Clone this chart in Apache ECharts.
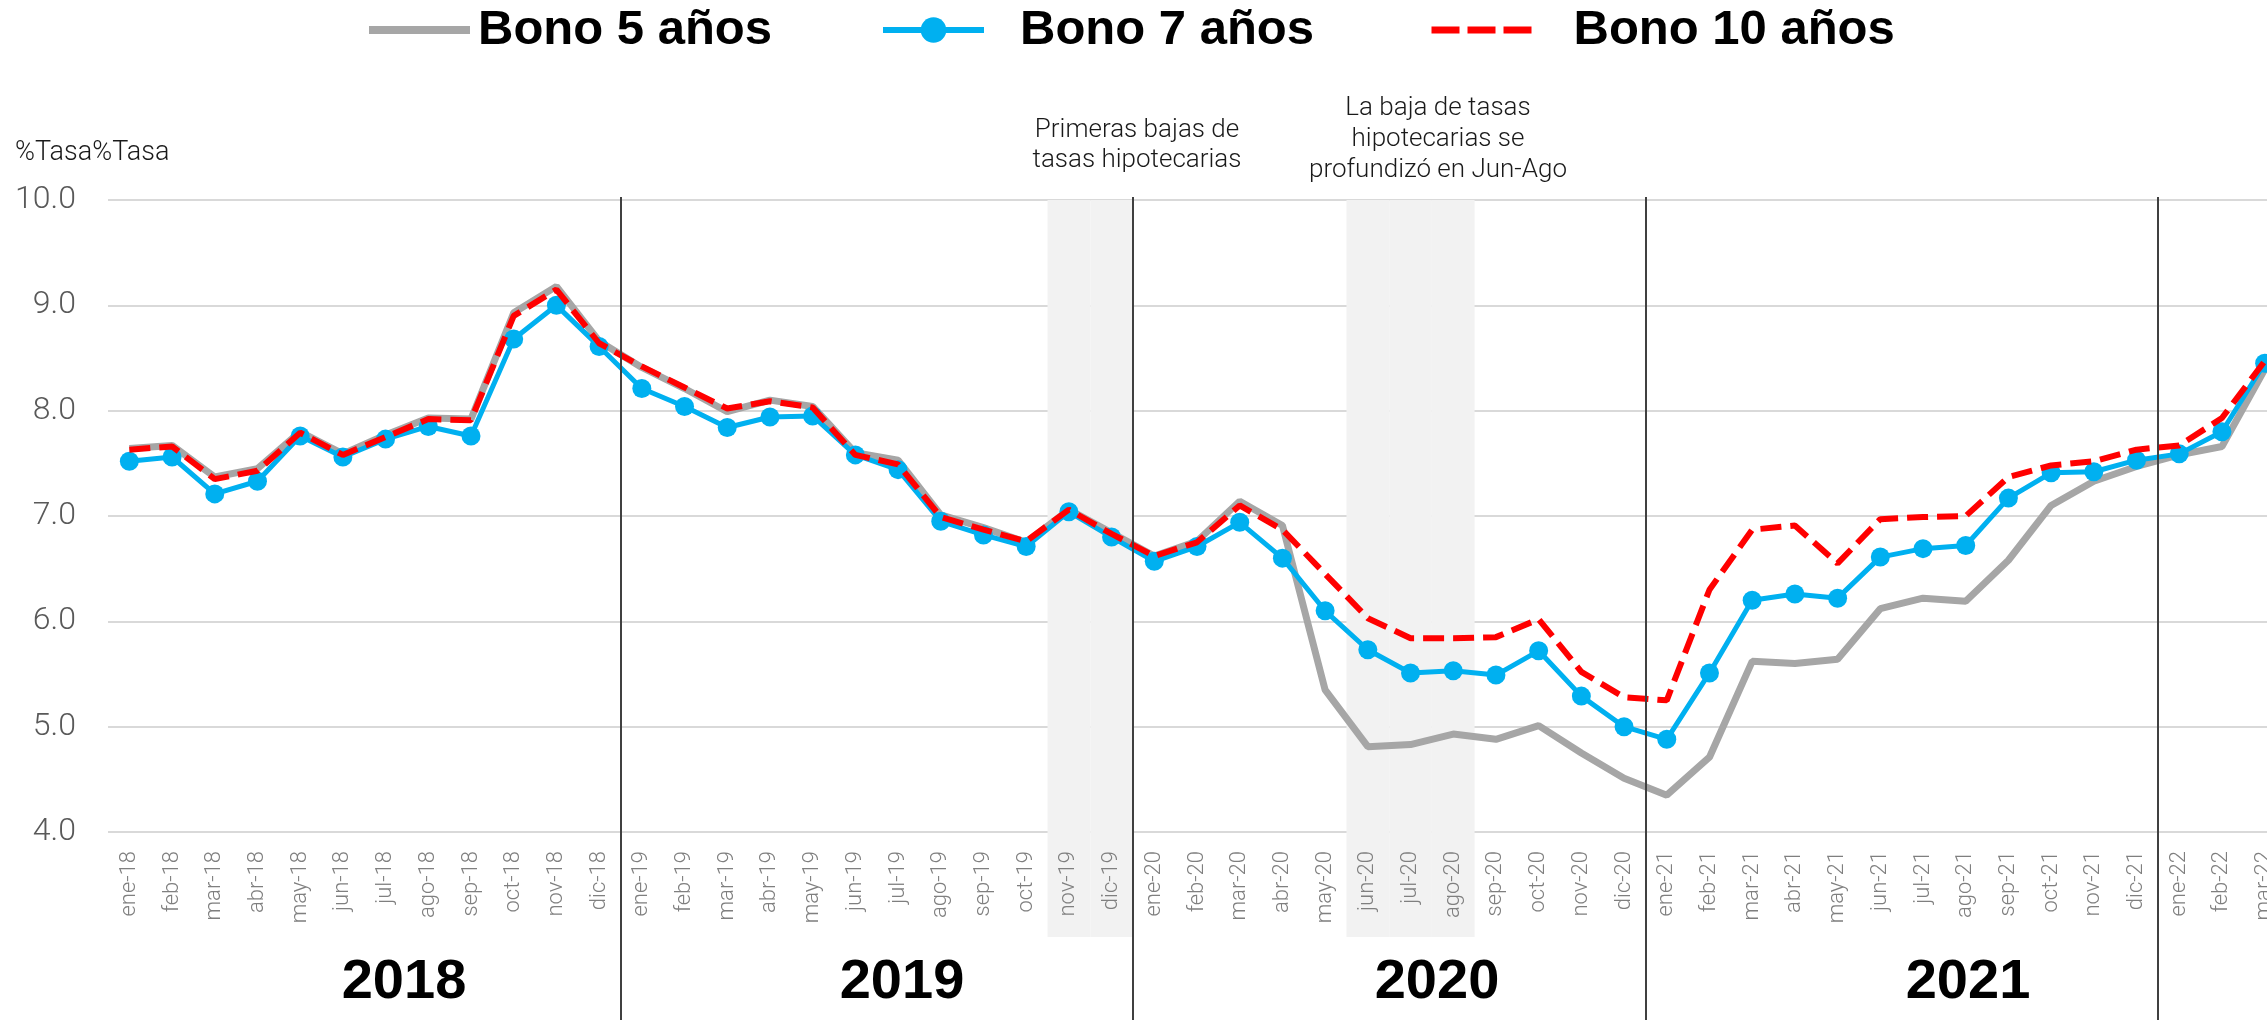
<!DOCTYPE html>
<html>
<head>
<meta charset="utf-8">
<title>Tasas bonos</title>
<script src="https://cdn.jsdelivr.net/npm/echarts@6/dist/echarts.min.js"></script>
<style>
    html, body { margin: 0; padding: 0; background: #ffffff; }
    #show_charts { width: 2267px; height: 1020px; }
</style>
</head>
<body>
<div id="show_charts"></div>
<script>
var meses = [
    'ene-18', 'feb-18', 'mar-18', 'abr-18', 'may-18', 'jun-18', 'jul-18', 'ago-18', 'sep-18', 'oct-18', 'nov-18', 'dic-18',
    'ene-19', 'feb-19', 'mar-19', 'abr-19', 'may-19', 'jun-19', 'jul-19', 'ago-19', 'sep-19', 'oct-19', 'nov-19', 'dic-19',
    'ene-20', 'feb-20', 'mar-20', 'abr-20', 'may-20', 'jun-20', 'jul-20', 'ago-20', 'sep-20', 'oct-20', 'nov-20', 'dic-20',
    'ene-21', 'feb-21', 'mar-21', 'abr-21', 'may-21', 'jun-21', 'jul-21', 'ago-21', 'sep-21', 'oct-21', 'nov-21', 'dic-21',
    'ene-22', 'feb-22', 'mar-22'
];

var bono5 = [
    7.64, 7.67, 7.37, 7.45, 7.80, 7.59, 7.77, 7.93, 7.92, 8.93, 9.18, 8.66,
    8.41, 8.21, 7.99, 8.10, 8.04, 7.60, 7.53, 7.01, 6.89, 6.75, 7.06, 6.84,
    6.62, 6.76, 7.14, 6.91, 5.35, 4.81, 4.83, 4.93, 4.88, 5.01, 4.75, 4.51,
    4.35, 4.71, 5.62, 5.60, 5.64, 6.12, 6.22, 6.19, 6.58, 7.10, 7.33, 7.47,
    7.58, 7.66, 8.39
];

var bono7 = [
    7.52, 7.56, 7.21, 7.33, 7.76, 7.56, 7.73, 7.85, 7.76, 8.68, 9.00, 8.61,
    8.21, 8.04, 7.84, 7.94, 7.95, 7.58, 7.44, 6.95, 6.82, 6.71, 7.04, 6.80,
    6.57, 6.71, 6.94, 6.60, 6.10, 5.73, 5.51, 5.53, 5.49, 5.72, 5.29, 5.00,
    4.88, 5.51, 6.20, 6.26, 6.22, 6.61, 6.69, 6.72, 7.17, 7.41, 7.42, 7.53,
    7.59, 7.80, 8.45
];

var bono10 = [
    7.63, 7.66, 7.35, 7.43, 7.79, 7.58, 7.75, 7.92, 7.91, 8.90, 9.15, 8.64,
    8.42, 8.22, 8.02, 8.09, 8.03, 7.58, 7.49, 6.99, 6.87, 6.76, 7.06, 6.83,
    6.62, 6.75, 7.10, 6.87, 6.45, 6.03, 5.84, 5.84, 5.85, 6.02, 5.52, 5.28,
    5.25, 6.30, 6.87, 6.91, 6.55, 6.97, 6.99, 7.00, 7.37, 7.48, 7.52, 7.63,
    7.67, 7.93, 8.47
];

// meses sombreados (bajas de tasas hipotecarias)
var meses_sombra = ['nov-19', 'dic-19', 'jun-20', 'jul-20', 'ago-20'];
// separadores entre años (indice de categoria)
var cortes_anio = [11.5, 23.5, 35.5, 47.5];
var anios = ['2018', '2019', '2020', '2021'];
var anios_x = [404, 902, 1437, 1968];

var nota1 = 'Primeras bajas de\ntasas hipotecarias';
var nota2 = 'La baja de tasas\nhipotecarias se\nprofundizó en Jun-Ago';

var lightFont = 'Roboto, "Liberation Sans", sans-serif';
var boldFont = '"Liberation Sans", Arial, sans-serif';

var sombra = [];
for (var i = 0; i < meses.length; i++) {
    sombra.push(meses_sombra.indexOf(meses[i]) >= 0 ? 1 : '-');
}

var marcas = [];
for (var i = 0; i < cortes_anio.length; i++) {
    marcas.push({ xAxis: cortes_anio[i] });
}

function legendItem(name, left, itemHeight, gap, lineStyle, hideSymbol) {
    return {
        data: [name],
        left: left,
        top: 2,
        padding: 0,
        itemWidth: 101,
        itemHeight: itemHeight,
        selectedMode: false,
        lineStyle: lineStyle,
        itemStyle: hideSymbol ? { opacity: 0 } : {},
        textStyle: {
            fontFamily: boldFont,
            fontWeight: 'bold',
            fontSize: 49,
            lineHeight: 56,
            color: '#000000',
            padding: [0, 0, 0, gap]
        }
    };
}

var graficos = [
    {
        type: 'text',
        left: 15,
        top: 140,
        style: { text: '%Tasa%Tasa', font: '300 27px ' + lightFont, fill: '#1a1a1a' }
    },
    {
        type: 'text',
        x: 1137,
        y: 115,
        style: {
            text: nota1, font: '300 26px ' + lightFont, fill: '#1a1a1a',
            align: 'center', verticalAlign: 'top', lineHeight: 30
        }
    },
    {
        type: 'text',
        x: 1438,
        y: 93,
        style: {
            text: nota2, font: '300 26px ' + lightFont, fill: '#1a1a1a',
            align: 'center', verticalAlign: 'top', lineHeight: 31
        }
    }
];
for (var i = 0; i < anios.length; i++) {
    graficos.push({
        type: 'text',
        x: anios_x[i],
        y: 983,
        style: {
            text: anios[i], font: 'bold 56px ' + boldFont, fill: '#000000',
            align: 'center', verticalAlign: 'middle'
        }
    });
}

var myChart = echarts.init(document.getElementById('show_charts'));
var option = {
    animation: false,
    backgroundColor: '#ffffff',
    legend: [
        legendItem('Bono 5 años', 365, 20, 3, { width: 8 }, true),
        legendItem('Bono 7 años', 880, 32, 31, { width: 6 }, false),
        legendItem('Bono 10 años', 1428, 20, 36, { width: 7, type: [28, 8] }, true)
    ],
    grid: [
        { left: 108, width: 2178, top: 200, height: 632, outerBoundsMode: 'none' },
        { left: 108, width: 2178, top: 200, height: 737, outerBoundsMode: 'none' },
        { left: 108, width: 2178, top: 197, height: 823, outerBoundsMode: 'none' }
    ],
    xAxis: [
        {
            type: 'category',
            gridIndex: 0,
            data: meses,
            boundaryGap: true,
            axisLine: { show: false },
            axisTick: { show: false },
            axisLabel: {
                interval: 0,
                rotate: 90,
                margin: 19,
                fontFamily: lightFont,
                fontWeight: 300,
                fontSize: 22,
                color: '#7f7f7f'
            }
        },
        {
            type: 'category',
            gridIndex: 1,
            data: meses,
            show: false
        },
        {
            type: 'value',
            gridIndex: 2,
            min: -0.5,
            max: meses.length - 0.5,
            show: false
        }
    ],
    yAxis: [
        {
            type: 'value',
            gridIndex: 0,
            min: 4,
            max: 10,
            interval: 1,
            axisLine: { show: false },
            axisTick: { show: false },
            splitLine: { lineStyle: { color: '#d9d9d9', width: 2 } },
            axisLabel: {
                margin: 32,
                fontFamily: lightFont,
                fontWeight: 300,
                fontSize: 32,
                color: '#595959',
                formatter: function (v) { return v.toFixed(1); }
            }
        },
        { type: 'value', gridIndex: 1, min: 0, max: 1, show: false },
        { type: 'value', gridIndex: 2, min: 0, max: 1, show: false }
    ],
    graphic: graficos,
    series: [
        {
            name: 'sombra',
            type: 'bar',
            xAxisIndex: 1,
            yAxisIndex: 1,
            data: sombra,
            barCategoryGap: '0%',
            itemStyle: { color: '#f2f2f2' },
            silent: true,
            z: 0
        },
        {
            name: 'cortes',
            type: 'line',
            xAxisIndex: 2,
            yAxisIndex: 2,
            data: [],
            silent: true,
            z: 1,
            markLine: {
                silent: true,
                symbol: 'none',
                label: { show: false },
                lineStyle: { color: '#404040', width: 2, type: 'solid' },
                data: marcas
            }
        },
        {
            name: 'Bono 5 años',
            type: 'line',
            data: bono5,
            symbol: 'none',
            lineStyle: { color: '#a6a6a6', width: 7 },
            itemStyle: { color: '#a6a6a6' },
            z: 2
        },
        {
            name: 'Bono 7 años',
            type: 'line',
            data: bono7,
            symbol: 'circle',
            symbolSize: 19,
            lineStyle: { color: '#00b0f0', width: 5 },
            itemStyle: { color: '#00b0f0' },
            z: 3
        },
        {
            name: 'Bono 10 años',
            type: 'line',
            data: bono10,
            symbol: 'none',
            lineStyle: { color: '#ff0000', width: 6, type: [21, 9] },
            itemStyle: { color: '#ff0000' },
            z: 4
        }
    ]
};
myChart.setOption(option);
</script>
</body>
</html>
